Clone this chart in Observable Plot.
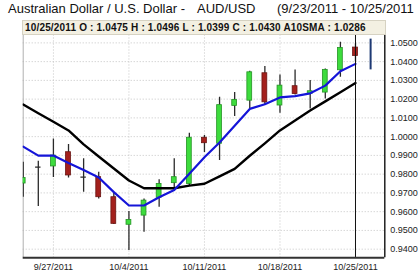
<!DOCTYPE html>
<html><head><meta charset="utf-8">
<script src="https://cdn.jsdelivr.net/npm/d3@7"></script>
<script src="https://cdn.jsdelivr.net/npm/@observablehq/plot@0.6"></script>
<style>
html,body{margin:0;padding:0;background:#fff;}
#wrap{position:relative;width:420px;height:273px;overflow:hidden;font-family:"Liberation Sans",Arial,sans-serif;}
.title{position:absolute;top:1px;font-size:13px;color:#111;white-space:pre;line-height:16px;}
#info{position:absolute;left:22px;top:20px;width:362px;height:13px;background:#f3f0e2;border:1px solid #d6d2c2;}
#infoText{position:absolute;left:25px;top:21px;font-size:10px;font-weight:bold;color:#111;white-space:pre;line-height:13px;letter-spacing:0.17px;}
#chart{position:absolute;left:0;top:0;}
</style>
</head><body>
<div id="wrap">
  <div id="chart"></div>
  <div class="title" style="left:8px">Australian Dollar / U.S. Dollar -</div>
  <div class="title" style="left:197px">AUD/USD</div>
  <div class="title" style="left:277px">(9/23/2011 - 10/25/2011</div>
  <div id="info"></div>
  <div id="infoText"></div>
</div>
<script>
// Trading days (no weekend gaps on the axis)
const dates = ["9/23/2011","9/26/2011","9/27/2011","9/28/2011","9/29/2011","9/30/2011",
  "10/3/2011","10/4/2011","10/5/2011","10/6/2011","10/7/2011",
  "10/10/2011","10/11/2011","10/12/2011","10/13/2011","10/14/2011",
  "10/17/2011","10/18/2011","10/19/2011","10/20/2011","10/21/2011",
  "10/24/2011","10/25/2011"];
const open  = [0.9750,0.9837,0.9841,0.9917,0.9784,0.9784,0.9677,0.9530,0.9579,0.9674,0.9752,
  0.9748,0.9994,0.9962,1.0164,1.0192,1.0338,1.0166,1.0269,1.0228,1.0235,1.0354,1.0475];
const high  = [0.9864,0.9869,0.9988,0.9958,0.9882,0.9810,0.9704,0.9601,0.9668,0.9770,0.9882,
  1.0018,1.0006,1.0210,1.0235,1.0349,1.0374,1.0329,1.0356,1.0299,1.0361,1.0503,1.0496];
const low   = [0.9677,0.9627,0.9782,0.9780,0.9704,0.9668,0.9532,0.9393,0.9490,0.9624,0.9716,
  0.9739,0.9915,0.9873,1.0107,1.0150,1.0168,1.0125,1.0222,1.0148,1.0201,1.0317,1.0399];
const close = [0.9779,0.9837,0.9899,0.9793,0.9784,0.9677,0.9535,0.9556,0.9659,0.9748,0.9784,
  0.9994,0.9965,1.0168,1.0196,1.0343,1.0183,1.0272,1.0227,1.0242,1.0356,1.0473,1.0430];
// 10-day SMA (black) and short SMA (blue)
const sma10 = [1.0171,1.0125,1.0079,1.0033,0.9959,0.9894,0.9830,0.9766,0.9725,0.9725,0.9725,
  0.9739,0.9749,0.9788,0.9828,0.9898,0.9964,1.0033,1.0086,1.0139,1.0188,1.0237,1.0286];
const smaShort = [0.9947,0.9899,0.9899,0.9860,0.9822,0.9782,0.9704,0.9633,0.9633,0.9677,0.9716,
  0.9802,0.9890,0.9969,1.0058,1.0148,1.0173,1.0209,1.0216,1.0231,1.0272,1.0349,1.0388];
// Current (in-progress) session shown as a range line
const currentDate = "10/26/2011";
const currentLow = 1.0356, currentHigh = 1.0520;
// Axis ticks
const xTickLabels = ["9/27/2011","10/4/2011","10/11/2011","10/18/2011","10/25/2011"];
const yTicks = [0.94,0.95,0.96,0.97,0.98,0.99,1.00,1.01,1.02,1.03,1.04,1.05];
const info = {date:"10/25/2011", O:"1.0475", H:"1.0496", L:"1.0399", C:"1.0430", sma:"1.0286"};

const allDates = dates.concat([currentDate]);
const candles = dates.map((d,i)=>({i, date:d, open:open[i], high:high[i], low:low[i], close:close[i], sma10:sma10[i], smaS:smaShort[i]}));
const bodies = candles.filter(d=>d.open!==d.close);
const dojis = candles.filter(d=>d.open===d.close);
const current = [{i: allDates.indexOf(currentDate), lo: currentLow, hi: currentHigh}];
const xTickIdx = xTickLabels.map(d=>allDates.indexOf(d));
const xMin = 0, xMax = 23.94;
const yMin = 0.9354, yMax = 1.0542;
const cursorIdx = dates.indexOf(info.date);

document.getElementById("infoText").textContent =
  `${info.date} O : ${info.O} H : ${info.H} L : ${info.L} C : ${info.C} A10SMA : ${info.sma}`;

const chart = Plot.plot({
  width: 420, height: 273,
  marginLeft: 22.7, marginRight: 35.7, marginTop: 34.5, marginBottom: 15.7,
  style: {background: "transparent", fontFamily: "'Liberation Sans', Arial, sans-serif", fontSize: "9px", color: "#222"},
  x: {type: "linear", domain: [xMin, xMax], ticks: xTickIdx, tickFormat: i => allDates[i], tickSize: 0, tickPadding: 6, label: null},
  y: {domain: [yMin, yMax], ticks: yTicks, tickFormat: d => d.toFixed(4), axis: "right", tickSize: 0, tickPadding: 5.5, label: null},
  marks: [
    Plot.ruleY(yTicks, {stroke: "#c4c4c4", strokeDasharray: "1,2"}),
    Plot.ruleX(xTickIdx.slice(0, -1), {stroke: "#c4c4c4", strokeDasharray: "1,2"}),
    Plot.ruleX([xMin], {stroke: "#b0b0b0", strokeWidth: 1}),
    Plot.ruleX(candles, {x: "i", y1: "low", y2: "high", stroke: "#2a2a2a", strokeWidth: 1.3, clip: true}),
    Plot.rect(bodies, {x1: d => d.i - 0.16, x2: d => d.i + 0.16, y1: "open", y2: "close",
      fill: d => d.close > d.open ? "#3ddc3d" : "#a3201c",
      stroke: d => d.close > d.open ? "#259325" : "#6a1512", strokeWidth: 0.8, clip: true}),
    Plot.ruleY(dojis, {y: "open", x1: d => d.i - 0.18, x2: d => d.i + 0.18, stroke: "#2a2a2a", strokeWidth: 1.3, clip: true}),
    Plot.line(candles, {x: "i", y: "sma10", stroke: "#000", strokeWidth: 2.4, strokeLinejoin: "round", clip: true}),
    Plot.line(candles, {x: "i", y: "smaS", stroke: "#1515d8", strokeWidth: 2.2, strokeLinejoin: "round", clip: true}),
    Plot.ruleX([cursorIdx], {stroke: "#111", strokeWidth: 1}),
    Plot.ruleX(current, {x: "i", y1: "lo", y2: "hi", stroke: "#1e3a74", strokeWidth: 2}),
    Plot.ruleY([yMin], {stroke: "#333", strokeWidth: 2}),
    Plot.ruleX([xMax], {stroke: "#111", strokeWidth: 1.4})
  ]
});
document.getElementById("chart").appendChild(chart);
</script>
</body></html>
